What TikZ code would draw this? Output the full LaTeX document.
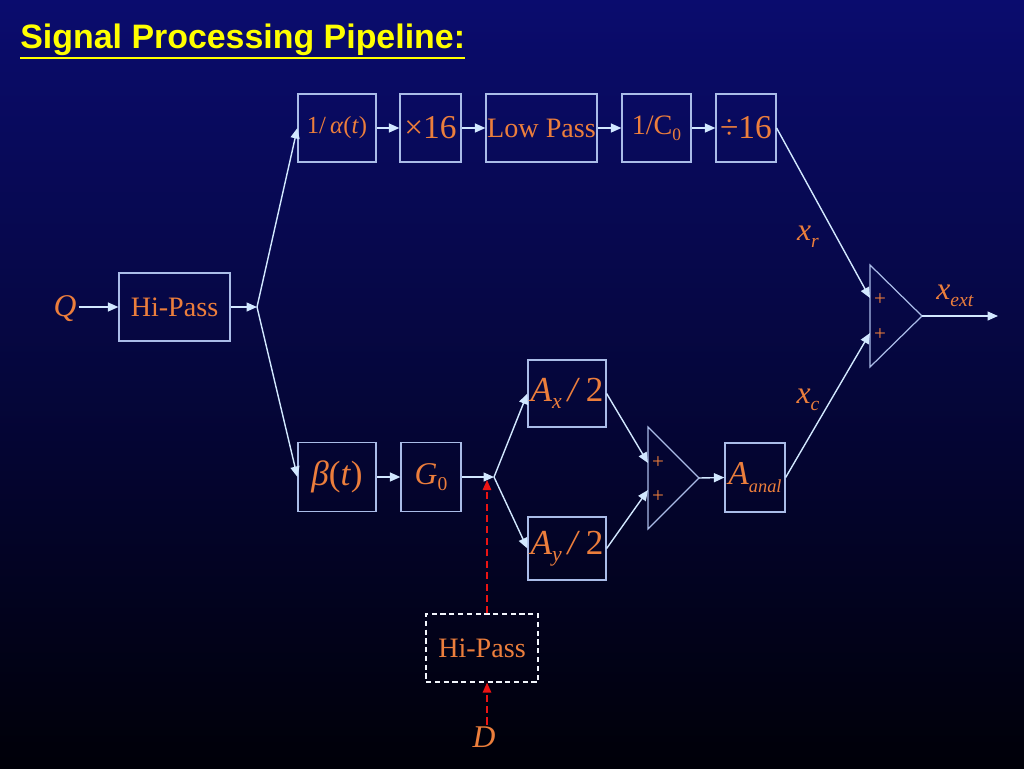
\documentclass[tikz,border=0pt]{standalone}
\usepackage{fontspec}
\usepackage{graphicx}
\setmainfont{Liberation Serif}
\newfontfamily\titlefont{Liberation Sans}
\usetikzlibrary{
    arrows.meta,
    positioning
}
\definecolor{bgtop}{RGB}{10,12,110}
\definecolor{bgbot}{RGB}{0,0,8}
\definecolor{labelorange}{RGB}{236,126,60}
\definecolor{boxline}{RGB}{170,188,232}
\definecolor{wireline}{RGB}{210,232,255}
\definecolor{titleyellow}{RGB}{255,255,0}
\definecolor{dred}{RGB}{235,20,20}
% small lowered subscript
\newcommand{\lsub}[1]{\raisebox{-0.45ex}{\scalebox{0.62}{#1}}}
\tikzstyle{block} = [
    rectangle,
    draw=boxline,
    line width=0.7pt,
    minimum height=1.36cm,
    inner sep=0pt,
    text=labelorange,
    font=\fontsize{16}{18}\selectfont
]
\tikzstyle{sig} = [
    text=labelorange,
    inner sep=1pt,
    font=\fontsize{18}{20}\selectfont
]
\tikzstyle{wire} = [
    -{Triangle[length=0.21cm,width=0.18cm]},
    line width=0.8pt,
    draw=wireline
]
\tikzstyle{sidewire} = [
    -{Triangle[length=0.2cm,width=0.17cm]},
    dash pattern=on 4pt off 2.5pt,
    line width=0.8pt,
    draw=dred
]
\tikzstyle{adder} = [
    line width=0.7pt,
    draw=boxline
]
\tikzstyle{plus} = [
    text=labelorange,
    inner sep=0pt,
    font=\fontsize{12}{12}\selectfont
]
\begin{document}
\begin{tikzpicture}[x=0.02cm, y=-0.02cm]
    % background
    \fill[top color=bgtop, bottom color=bgbot] (0,0) rectangle (1024,768);
    \node[anchor=base west, inner sep=0pt, text=titleyellow,
        font=\titlefont\bfseries\fontsize{19.3}{22}\selectfont] (title) at (20,48)
        {Signal Processing Pipeline:};
    \draw[titleyellow, line width=1.2pt]
        ([yshift=-1.5pt]title.south west) -- ([yshift=-1.5pt]title.south east);

    % input stage
    \node[sig, font=\fontsize{18}{20}\selectfont\itshape] (q) at (65,309) {Q};
    \node[block, minimum width=2.22cm] (hp) at (174.5,307) {Hi-Pass};
    \coordinate (split) at (257,307);

    % upper branch
    \node[block, minimum width=1.56cm, font=\fontsize{14}{16}\selectfont] (alpha) at (337,128) {1/\,\textit{α}(\textit{t})};
    \node[block, minimum width=1.22cm, font=\fontsize{19}{20}\selectfont] (times) at (430.5,128) {×16};
    \node[block, minimum width=2.22cm] (lowpass) at (541.5,128) {Low Pass};
    \node[block, minimum width=1.38cm] (cinv) at (656.5,128) {1/C\lsub{0}};
    \node[block, minimum width=1.20cm, font=\fontsize{19}{20}\selectfont] (div) at (746,128) {÷16};

    % lower branch
    \node[block, minimum width=1.56cm, minimum height=1.38cm, font=\fontsize{20}{22}\selectfont] (beta) at (337,477) {\textit{β}(\textit{t})};
    \node[block, minimum width=1.20cm, minimum height=1.38cm, font=\fontsize{18}{20}\selectfont] (gzero) at (431,477) {\textit{G}\lsub{0}};
    \coordinate (fork) at (494,477);
    \node[block, minimum width=1.56cm, minimum height=1.34cm, font=\fontsize{20}{22}\selectfont] (ax) at (567,393.5) {\textit{A}\lsub{\textit{x}}\,\textit{/}\,2};
    \node[block, minimum width=1.56cm, minimum height=1.26cm, font=\fontsize{20}{22}\selectfont] (ay) at (567,548.5) {\textit{A}\lsub{\textit{y}}\,\textit{/}\,2};
    \node[block, minimum width=1.20cm, minimum height=1.38cm, font=\fontsize{19}{22}\selectfont] (anal) at (755,477.5) {\textit{A}\raisebox{-0.5ex}{\scalebox{0.55}{\textit{anal}}}};

    % side input
    \node[block, dash pattern=on 3pt off 2pt, draw=white!85!boxline, minimum width=2.24cm] (hpd) at (482,648) {Hi-Pass};
    \node[sig, font=\fontsize{18}{20}\selectfont\itshape] (d) at (484,737) {D};
    \coordinate (dtip) at (487,480);

    % adders
    \coordinate (sa1) at (870,265);
    \coordinate (sa2) at (870,367);
    \coordinate (sao) at (922,316);
    \coordinate (sain1) at (870,298);
    \coordinate (sain2) at (870,333);
    \coordinate (xend) at (998,316);
    \draw[adder] (sa1) -- (sao) -- (sa2) -- cycle;
    \node[plus] (sp1) at (880,300) {+};
    \node[plus] (sp2) at (880,335) {+};

    \coordinate (sb1) at (648,427);
    \coordinate (sb2) at (648,529);
    \coordinate (sbo) at (699,478);
    \coordinate (sbin1) at (648,463);
    \coordinate (sbin2) at (648,490);
    \draw[adder] (sb1) -- (sbo) -- (sb2) -- cycle;
    \node[plus] (sp3) at (658,463) {+};
    \node[plus] (sp4) at (658,497) {+};

    % signal labels
    \node[sig] (xr) at (808,237) {\textit{x}\lsub{\textit{r}}};
    \node[sig] (xc) at (808,400) {\textit{x}\lsub{\textit{c}}};
    \node[sig] (xext) at (955,296) {\textit{x}\lsub{\textit{ext}}};

    % connections
    \draw[wire] (q.east |- hp.west) -- (hp.west);
    \draw[wire] (hp.east) -- (split);
    \draw[wire] (split) -- (alpha.west);
    \draw[wire] (split) -- (beta.west);
    \draw[wire] (alpha) -- (times);
    \draw[wire] (times) -- (lowpass);
    \draw[wire] (lowpass) -- (cinv);
    \draw[wire] (cinv) -- (div);
    \draw[wire] (div.east) -- (sain1);
    \draw[wire] (sao) -- (xend);
    \draw[wire] (beta) -- (gzero);
    \draw[wire] (gzero.east) -- (fork);
    \draw[wire] (fork) -- (ax.west);
    \draw[wire] (fork) -- (ay.west);
    \draw[wire] (ax.east) -- (sbin1);
    \draw[wire] (ay.east) -- (sbin2);
    \draw[wire] (sbo) -- (anal.west);
    \draw[wire] (anal.east) -- (sain2);
    \draw[sidewire] (hpd.north -| dtip) -- (dtip);
    \draw[sidewire] (d.north -| dtip) -- (hpd.south -| dtip);
\end{tikzpicture}
\end{document}
